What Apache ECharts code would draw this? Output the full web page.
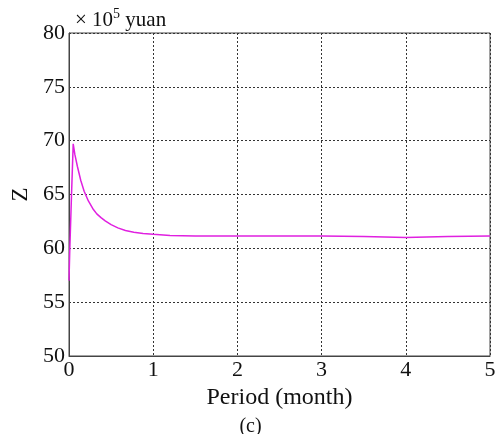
<!DOCTYPE html>
<html>
<head>
<meta charset="utf-8">
<script src="https://cdn.jsdelivr.net/npm/echarts@6/dist/echarts.min.js"></script>
<style>
	html, body { margin: 0; padding: 0; background: #fff; }
	#main { width: 501px; height: 434px; }
</style>
</head>
<body>
<div id="main"></div>
<script>
// period in months and Z value (x 10^5 yuan)
var periods = [0, 0.008, 0.03, 0.05, 0.07, 0.1, 0.14, 0.18, 0.23, 0.29, 0.33, 0.38, 0.43, 0.5, 0.58, 0.67, 0.77, 0.88, 1.0, 1.2, 1.5, 2, 2.5, 3, 3.5, 4, 4.5, 5];
var zValues = [57, 59.5, 65, 69.7, 68.7, 67.6, 66.3, 65.3, 64.4, 63.6, 63.2, 62.85, 62.55, 62.2, 61.9, 61.65, 61.5, 61.38, 61.3, 61.2, 61.15, 61.15, 61.15, 61.15, 61.1, 61.0, 61.1, 61.15];
var xTicks = [0, 1, 2, 3, 4, 5];
var yTicks = [50, 55, 60, 65, 70, 75, 80];

var chartDom = document.getElementById('main');
var myChart = echarts.init(chartDom);
var font = 'Liberation Serif';

var points = [];
for (var i = 0; i < periods.length; i++) {
	points.push([periods[i], zValues[i]]);
}

var gridLine = {
	show: true,
	lineStyle: { color: '#333', type: [2, 2], width: 1 }
};

var option = {
	backgroundColor: '#fff',
	animation: false,
	title: [{
		text: '× 10{sup|5} yuan',
		left: 70,
		top: 2,
		textStyle: {
			fontFamily: font,
			fontSize: 21,
			fontWeight: 'normal',
			color: '#111',
			rich: {
				sup: { fontFamily: font, fontSize: 14, color: '#111', padding: [0, 0, 12, 0] }
			}
		}
	}, {
		text: '(c)',
		left: 'center',
		top: 412,
		textStyle: { fontFamily: font, fontSize: 20, fontWeight: 'normal', color: '#111' }
	}],
	grid: {
		left: 69,
		right: 11,
		top: 33,
		bottom: 78,
		show: true,
		borderColor: '#444',
		borderWidth: 1
	},
	xAxis: {
		type: 'value',
		min: xTicks[0],
		max: xTicks[xTicks.length - 1],
		interval: 1,
		name: 'Period (month)',
		nameLocation: 'middle',
		nameGap: 29,
		nameTextStyle: { fontFamily: font, fontSize: 24, color: '#111' },
		axisLine: { show: true, lineStyle: { color: '#444' } },
		axisTick: { show: false },
		axisLabel: { fontFamily: font, fontSize: 22, color: '#111', margin: 3 },
		splitLine: gridLine
	},
	yAxis: {
		type: 'value',
		min: yTicks[0],
		max: yTicks[yTicks.length - 1],
		interval: 5,
		name: 'Z',
		nameLocation: 'middle',
		nameGap: 35,
		nameTextStyle: { fontFamily: font, fontSize: 23, color: '#111' },
		axisLine: { show: true, lineStyle: { color: '#444' } },
		axisTick: { show: false },
		axisLabel: { fontFamily: font, fontSize: 22, color: '#111', margin: 4 },
		splitLine: gridLine
	},
	series: [{
		type: 'line',
		data: points,
		showSymbol: false,
		smooth: false,
		lineStyle: { color: '#e020e0', width: 1.5 }
	}]
};

myChart.setOption(option);
</script>
</body>
</html>
